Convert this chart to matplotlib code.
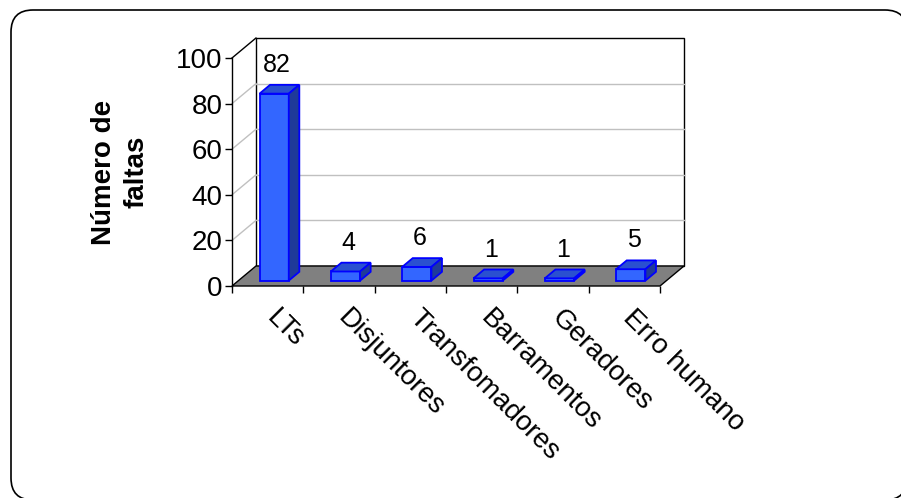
import matplotlib
matplotlib.use("Agg")
import matplotlib.pyplot as plt
from matplotlib.patches import Polygon, FancyBboxPatch
from matplotlib.transforms import IdentityTransform

plt.rcParams['font.family'] = ['Liberation Sans', 'DejaVu Sans']

# Fault counts by cause
categories = ["LTs", "Disjuntores", "Transfomadores", "Barramentos", "Geradores", "Erro humano"]
faults = [82, 4, 6, 1, 1, 5]
y_ticks = [0, 20, 40, 60, 80, 100]
y_label = "Número de\nfaltas"

W, H = 901, 498
fig = plt.figure(figsize=(W / 100, H / 100), dpi=100)

# rounded frame around the whole chart (pixel coordinates)
frame = FancyBboxPatch((11, H - 500), 907 - 11, 500 - 10,
                       boxstyle="round,pad=0,rounding_size=22",
                       transform=IdentityTransform(), facecolor="white",
                       edgecolor="black", linewidth=1.2, clip_on=False, zorder=-1)
fig.patches.append(frame)

ax = fig.add_axes([232 / W, 1 - 286 / H, 428 / W, 228 / H])
ax.set_facecolor("none")
n = len(categories)
ax.set_xlim(0, n)
ax.set_ylim(0, 100)
for s in ("top", "right", "bottom"):
    ax.spines[s].set_visible(False)
ax.spines["left"].set_linewidth(1.0)

# depth of the 3-D box in data units
Dx, Dy = 0.336, 8.77
grid_c = "#c0c0c0"

# floor
ax.add_patch(Polygon([(0, 0), (n, 0), (n + Dx, Dy), (Dx, Dy)], closed=True,
                     facecolor="#808080", edgecolor="black", linewidth=1.0,
                     clip_on=False, zorder=1))
# back wall
ax.add_patch(Polygon([(Dx, Dy), (n + Dx, Dy), (n + Dx, 100 + Dy), (Dx, 100 + Dy)],
                     closed=True, facecolor="white", edgecolor="black",
                     linewidth=1.0, clip_on=False, zorder=0.5))
for v in y_ticks[1:-1]:
    ax.plot([Dx, n + Dx], [v + Dy, v + Dy], color=grid_c, lw=1.0, clip_on=False, zorder=0.6)
    ax.plot([0, Dx], [v, v + Dy], color=grid_c, lw=1.0, clip_on=False, zorder=0.6)
ax.plot([0, Dx], [100, 100 + Dy], color="black", lw=1.0, clip_on=False, zorder=0.6)

# bars
t = 0.27          # depth position of the bar front face
bw = 0.41         # bar width
bdx, bdy = 0.148, 3.86  # bar depth
front_c, top_c, side_c, edge_c = "#3366ff", "#2a50d0", "#1f3a99", "#0000ff"
xs = [i + 0.5 + t * Dx for i in range(n)]
base = t * Dy
ax.bar(xs, faults, width=bw, bottom=base, color=front_c, edgecolor=edge_c,
       linewidth=1.3, zorder=3, clip_on=False)
for x, v in zip(xs, faults):
    x0, x1 = x - bw / 2, x + bw / 2
    top = base + v
    ax.add_patch(Polygon([(x0, top), (x1, top), (x1 + bdx, top + bdy), (x0 + bdx, top + bdy)],
                         closed=True, facecolor=top_c, edgecolor=edge_c,
                         linewidth=1.3, zorder=3, clip_on=False))
    ax.add_patch(Polygon([(x1, base), (x1 + bdx, base + bdy), (x1 + bdx, top + bdy), (x1, top)],
                         closed=True, facecolor=side_c, edgecolor=edge_c,
                         linewidth=1.3, zorder=3, clip_on=False))
    ax.annotate(str(v), (x + bdx / 2 - 0.03, top + bdy), xytext=(0, 8),
                textcoords="offset pixels", ha="center", va="bottom",
                fontsize=18, color="black", zorder=4, annotation_clip=False)

# y axis
ax.set_yticks(y_ticks)
ax.tick_params(axis="y", labelsize=20, length=5, width=1.0, pad=2, direction="out")

# x axis: boundary ticks, rotated category names
ax.set_xticks(range(n + 1))
ax.set_xticklabels([])
ax.tick_params(axis="x", length=5, width=1.0, direction="out")
for i, name in enumerate(categories):
    ax.annotate(name, (i + 0.5, 0), xycoords="data", xytext=(12, -19),
                textcoords="offset pixels", rotation=-45, rotation_mode="anchor",
                ha="left", va="top", fontsize=20, annotation_clip=False)

fig.text(120 / W, 1 - 172 / H, y_label, rotation=90, ha="center", va="center",
         multialignment="center", fontsize=20, fontweight="bold", linespacing=1.35)

fig.savefig("out.png", dpi=100)
